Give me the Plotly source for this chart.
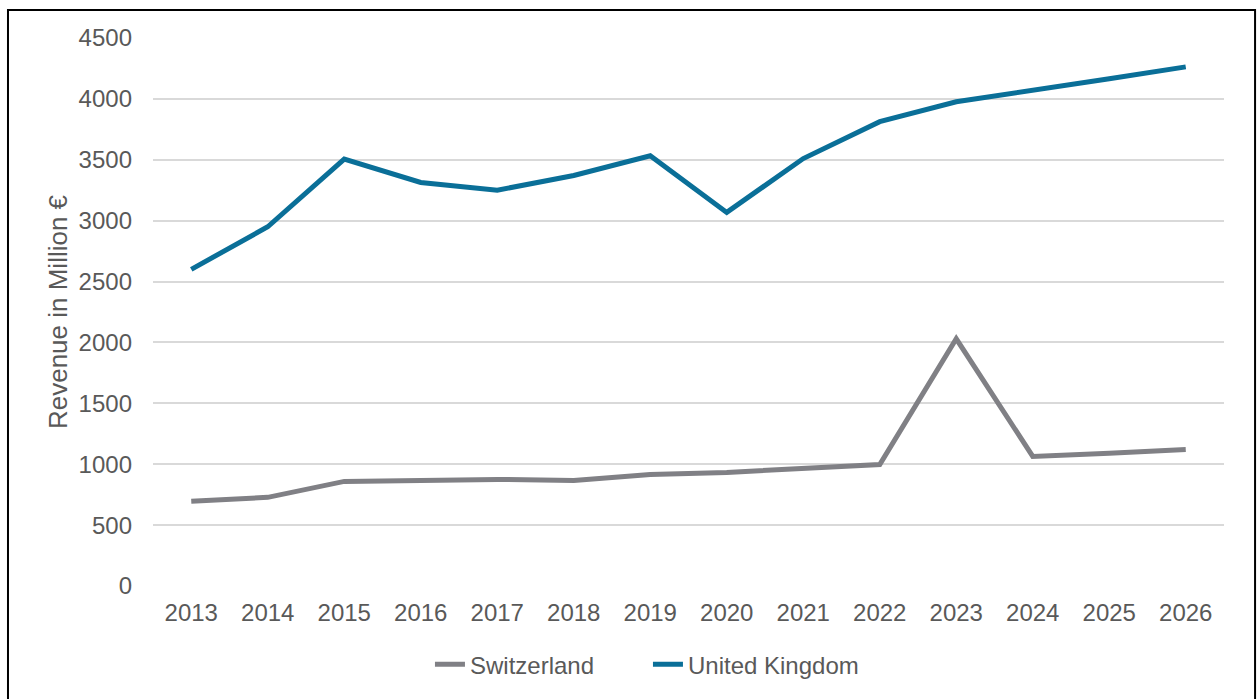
import plotly.graph_objects as go

years = ["2013", "2014", "2015", "2016", "2017", "2018", "2019",
         "2020", "2021", "2022", "2023", "2024", "2025", "2026"]
switzerland = [695, 728, 859, 867, 875, 867, 916, 933, 965, 998, 2030, 1064, 1090, 1121]
united_kingdom = [2600, 2950, 3505, 3314, 3250, 3371, 3533, 3068, 3510, 3813, 3976, 4066, 4165, 4263]
y_ticks = [0, 500, 1000, 1500, 2000, 2500, 3000, 3500, 4000, 4500]

FONT = "Liberation Sans, Arial, sans-serif"
TXT = "#595959"

fig = go.Figure()
fig.add_trace(go.Scatter(x=years, y=switzerland, name="Switzerland", mode="lines",
                         line=dict(color="#808085", width=5)))
fig.add_trace(go.Scatter(x=years, y=united_kingdom, name="United Kingdom", mode="lines",
                         line=dict(color="#0a6f98", width=5)))

fig.update_layout(
    width=1258, height=699,
    margin=dict(l=153, r=34, t=38, b=111),
    paper_bgcolor="white", plot_bgcolor="white",
    font=dict(family=FONT, size=24, color=TXT),
    showlegend=True,
    legend=dict(orientation="h", x=0.2586, xanchor="left", y=-0.1436, yanchor="middle",
                font=dict(family=FONT, size=24, color=TXT),
                entrywidth=173, entrywidthmode="pixels",
                traceorder="normal"),
    xaxis=dict(type="category", range=[-0.5, 13.5], showgrid=False, zeroline=False,
               showline=False, ticks="", ticklabelstandoff=10,
               tickfont=dict(family=FONT, size=24, color=TXT)),
    yaxis=dict(range=[0, 4500], tickvals=y_ticks, showgrid=True, gridcolor="#d9d9d9",
               gridwidth=1.5, zeroline=False, showline=False, ticks="",
               ticklabelstandoff=20,
               tickfont=dict(family=FONT, size=24, color=TXT),
               title=dict(text="Revenue in Million €", standoff=3,
                          font=dict(family=FONT, size=26, color=TXT))),
    shapes=[dict(type="rect", xref="paper", yref="paper",
                 x0=-0.1354, x1=1.0290, y0=-0.25, y1=1.0509,
                 line=dict(color="black", width=2), fillcolor="rgba(0,0,0,0)",
                 layer="below")],
)

fig.write_html("out.html")
